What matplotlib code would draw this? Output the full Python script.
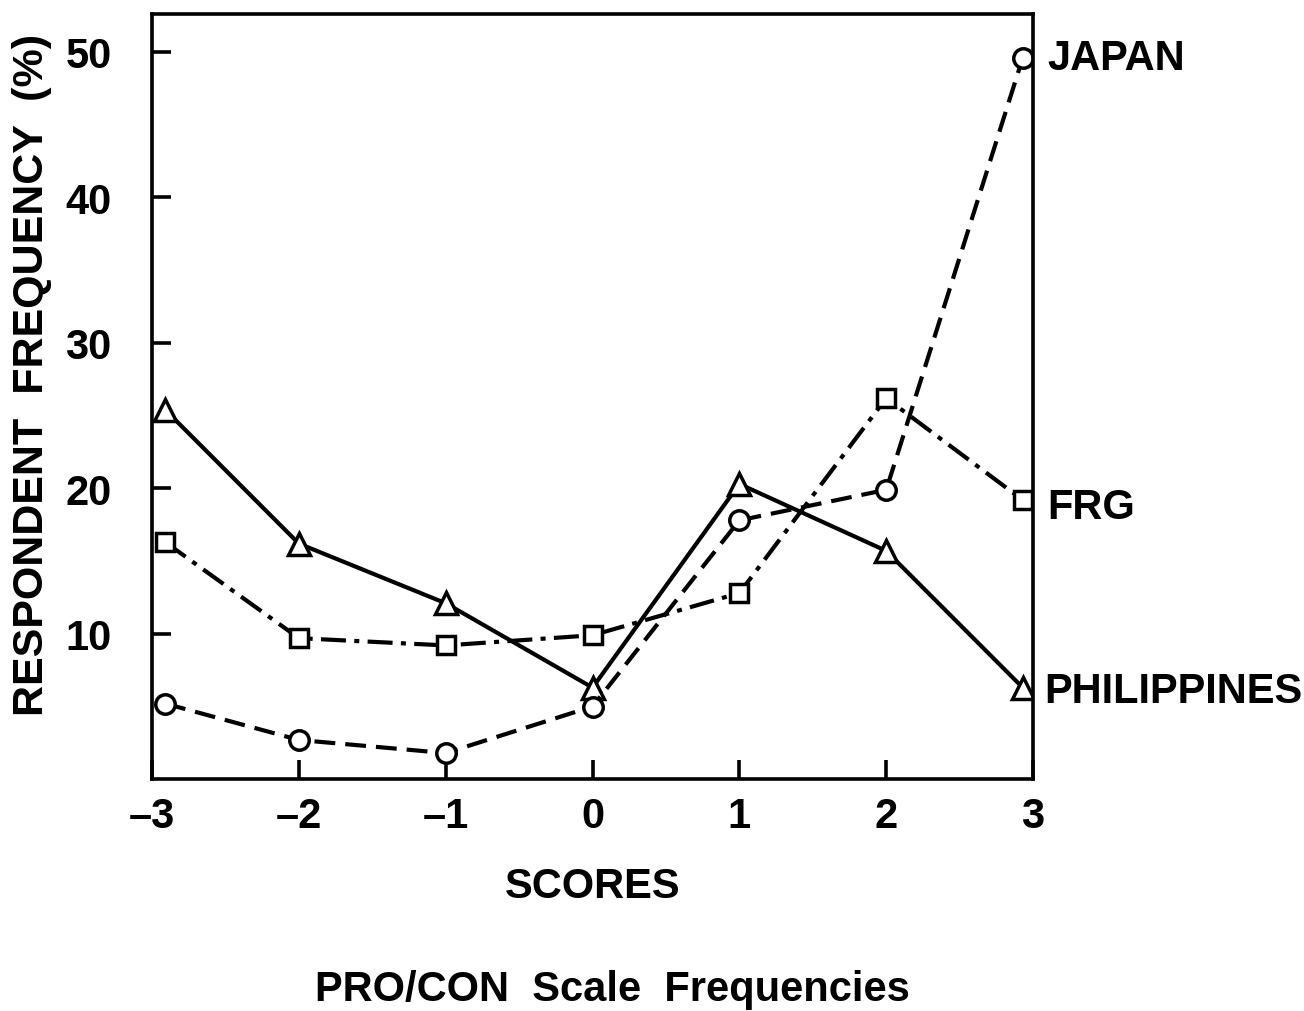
import matplotlib.pyplot as plt
from matplotlib.transforms import blended_transform_factory

# scores and where each point sits along the axis (end points drawn just inside the frame)
scores = [-3, -2, -1, 0, 1, 2, 3]
score_pos = [-2.91, -2, -1, 0, 1, 2, 2.93]

japan = [5.2, 2.7, 1.8, 5.0, 17.8, 19.9, 49.6]
frg = [16.3, 9.7, 9.2, 9.9, 12.8, 26.2, 19.2]
philippines = [25.4, 16.2, 12.1, 6.3, 20.3, 15.7, 6.3]

y_ticks = [10, 20, 30, 40, 50]

plt.rcParams['font.family'] = ['Liberation Sans', 'DejaVu Sans']
fs = 30

fig = plt.figure(figsize=(13.04, 10.12), dpi=100)
ax = fig.add_axes([0.1166, 0.229, 0.6756, 0.756])

lw = 3
ax.plot(score_pos, philippines, color='black', lw=lw, ls='-',
        marker='^', ms=16, mfc='white', mec='black', mew=2.5)
ax.plot(score_pos, frg, color='black', lw=lw, ls=(0, (6, 2, 1.2, 2)),
        marker='s', ms=13, mfc='white', mec='black', mew=2.5)
ax.plot(score_pos, japan, color='black', lw=lw, ls=(0, (5, 2.4)),
        marker='o', ms=14, mfc='white', mec='black', mew=2.5)

ax.set_xlim(-3, 3)
ax.set_ylim(0, 52.6)
ax.set_xticks(scores)
ax.set_xticklabels([str(s).replace('-', '\u2013') for s in scores])
ax.set_yticks(y_ticks)

for sp in ax.spines.values():
    sp.set_linewidth(2.6)
ax.tick_params(direction='in', length=14, width=2.6, labelsize=fs)
ax.tick_params(axis='x', pad=12)
ax.tick_params(axis='y', pad=29)
for lab in ax.get_xticklabels() + ax.get_yticklabels():
    lab.set_fontweight('bold')

ax.set_xlabel('SCORES', fontsize=fs, fontweight='bold', labelpad=22)
ax.set_ylabel('RESPONDENT  FREQUENCY  (%)', fontsize=31, fontweight='bold')
ax.yaxis.set_label_coords(-0.114, 0.53)

# country names at the right of the frame
tr = blended_transform_factory(ax.transAxes, ax.transData)
ax.text(1.016, japan[-1], 'JAPAN', transform=tr, fontsize=fs, fontweight='bold', va='center')
ax.text(1.016, frg[-1] - 0.5, 'FRG', transform=tr, fontsize=fs, fontweight='bold', va='center')
ax.text(1.013, philippines[-1] - 0.2, 'PHILIPPINES', transform=tr, fontsize=fs, fontweight='bold', va='center')

fig.text(0.47, 0.002, 'PRO/CON  Scale  Frequencies', fontsize=fs, fontweight='bold',
         ha='center', va='bottom')

fig.savefig('out.png', dpi=100)
